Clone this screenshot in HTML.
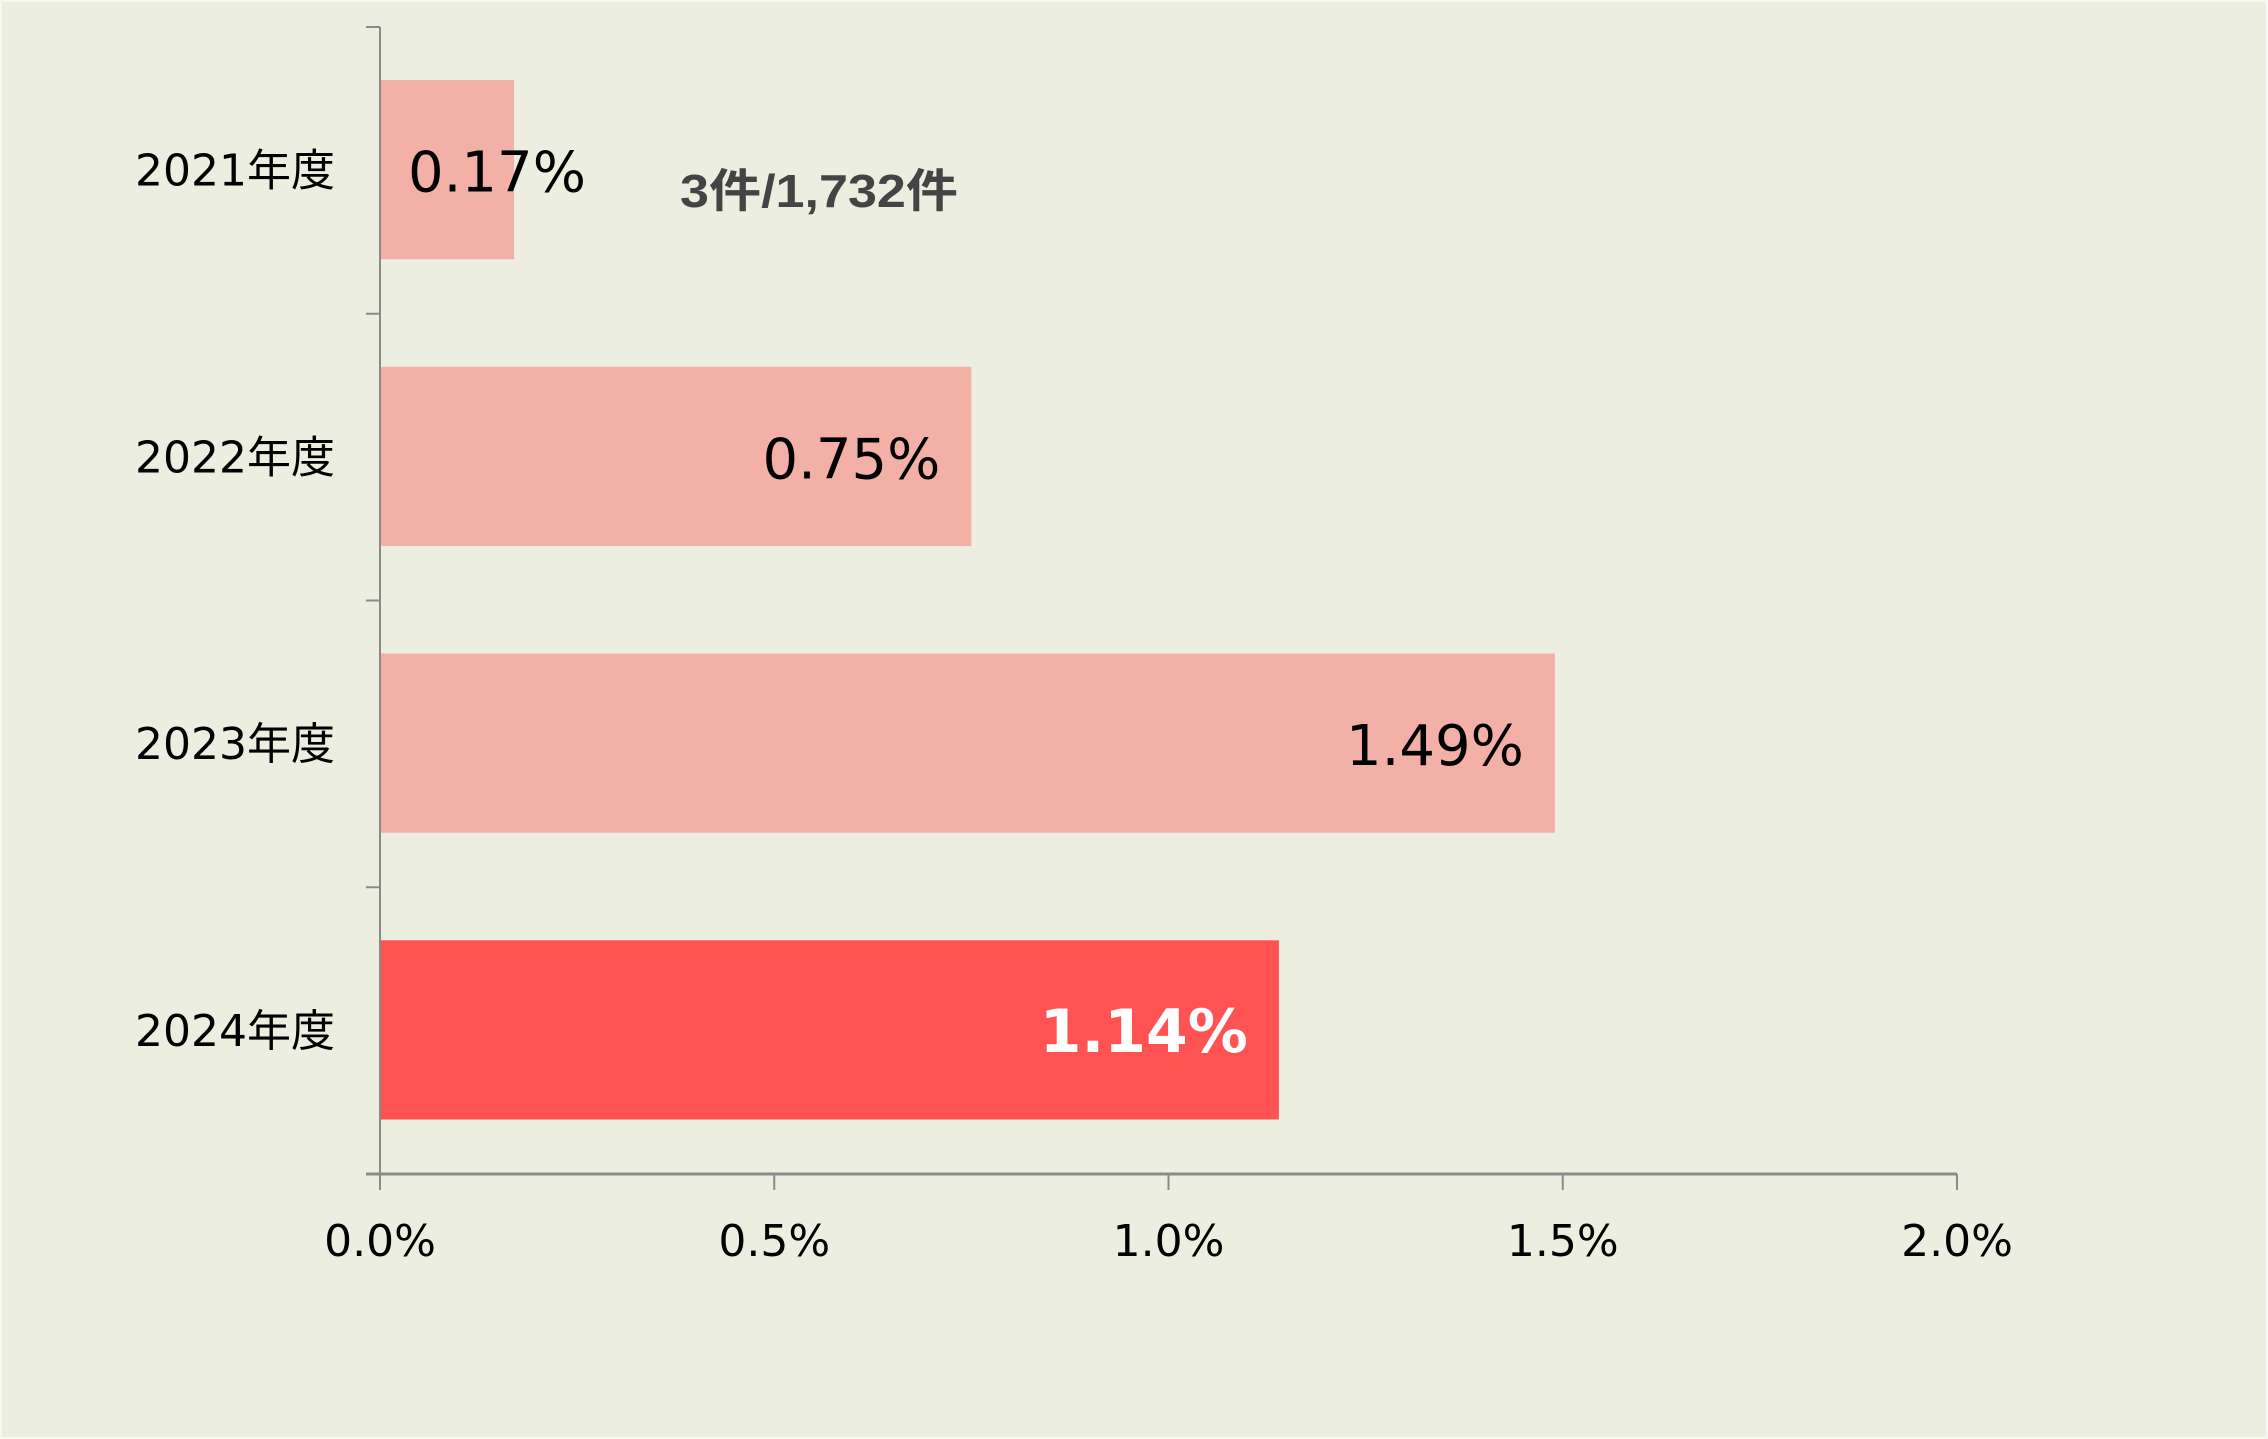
<!DOCTYPE html>
<html><head><meta charset="utf-8"><style>
html,body{margin:0;padding:0;background:#ECEFDF;}
svg{display:block;}
</style></head><body>
<svg id="chart" width="2268" height="1439" viewBox="0 0 2268 1439" xmlns="http://www.w3.org/2000/svg">
<rect x="1" y="1" width="2266" height="1437" fill="#ECEFDF" stroke="#F7F8F0" stroke-width="2"/>
<g id="plot"></g>
<text x="680" y="207" font-family="'Liberation Sans','Noto Sans CJK JP',sans-serif" font-weight="bold" font-size="46" fill="#444" textLength="278" lengthAdjust="spacingAndGlyphs">3件/1,732件</text>
</svg>
<script>
const categories = ["2021年度","2022年度","2023年度","2024年度"];
const values = [0.17, 0.75, 1.49, 1.14];
const valueLabels = ["0.17%","0.75%","1.49%","1.14%"];
const xTicks = [0, 0.5, 1.0, 1.5, 2.0];
const xTickLabels = ["0.0%","0.5%","1.0%","1.5%","2.0%"];

const NS = "http://www.w3.org/2000/svg";
const g = document.getElementById('plot');
const x0 = 380, x1 = 1957, xMax = 2.0;
const yTop = 27, yBot = 1174;
const band = (yBot - yTop) / categories.length;
const xScale = v => x0 + (v / xMax) * (x1 - x0);
const yBand = i => yTop + i * band;
function mk(tag, attrs){const e=document.createElementNS(NS,tag);for(const k in attrs)e.setAttribute(k,attrs[k]);g.appendChild(e);return e;}
const font = "'DejaVu Sans','Noto Sans CJK JP',sans-serif";

categories.forEach((c,i)=>{
  const top = yBand(i) + band*0.185, h = band*0.625, cy = top + h/2;
  const last = i === categories.length-1;
  const r = mk('rect',{x:x0,y:top,width:xScale(values[i])-x0,height:h,fill:last?'#FF5252':'#F3B0A6'});
  
  
  const cl = mk('text',{x:335,y:cy+16,'text-anchor':'end','font-family':font,'font-size':44,fill:'#000'});
  cl.textContent = c;
  
  
  const bw = xScale(values[i]) - x0;
  let vx, anchor;
  if (bw < 200) { vx = x0 + 28; anchor = 'start'; } else { vx = xScale(values[i]) - 31; anchor = 'end'; }
  const vl = mk('text',{x:vx,y:cy+22,'text-anchor':anchor,'font-family':font,'font-size':last?60:56,'font-weight':last?'bold':'normal',fill:last?'#fff':'#000'});
  vl.textContent = valueLabels[i];
  
  
});
// y axis
const ya = mk('line',{x1:x0,y1:yTop,x2:x0,y2:yBot,stroke:'#8a8a8a','stroke-width':2});


for(let i=0;i<=categories.length;i++){
  const t = mk('line',{x1:366,y1:yBand(i),x2:x0,y2:yBand(i),stroke:'#8a8a8a','stroke-width':2});
  
  
}
// x axis
const xa = mk('line',{x1:366,y1:yBot,x2:x1,y2:yBot,stroke:'#8a8a8a','stroke-width':3});


xTicks.forEach((v,i)=>{
  const t = mk('line',{x1:xScale(v),y1:yBot,x2:xScale(v),y2:yBot+16,stroke:'#8a8a8a','stroke-width':2});
  
  
  const l = mk('text',{x:xScale(v),y:1256,'text-anchor':'middle','font-family':font,'font-size':44,fill:'#000'});
  l.textContent = xTickLabels[i];
  
  
});
</script>
</body></html>
